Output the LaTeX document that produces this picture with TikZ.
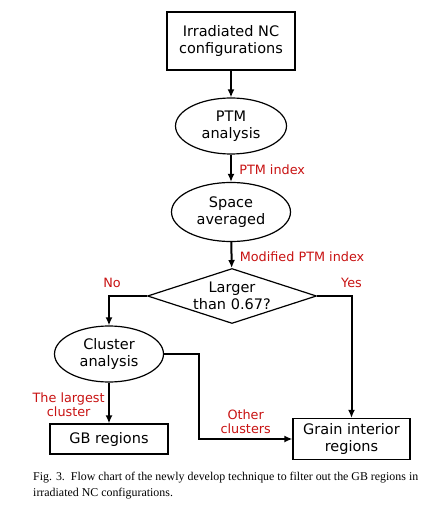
\documentclass[tikz,border=0pt]{standalone}
\usepackage{fontspec}
\setmainfont{DejaVu Sans}
\newfontfamily\capfont{Liberation Serif}
\usepackage{xcolor}
\usetikzlibrary{shapes.geometric,arrows.meta}
\definecolor{labelred}{RGB}{200,18,18}
\tikzset{
  procbox/.style={draw, line width=1.2pt, rectangle, inner sep=0pt, align=center, font=\fontsize{14.5}{17}\selectfont},
  procoval/.style={draw, line width=1.2pt, ellipse, inner sep=0pt, align=center, font=\fontsize{14.5}{17}\selectfont},
  arr/.style={line width=2pt, -{Latex[length=8pt,width=7pt]}},
  redlabel/.style={text=labelred, align=center, font=\fontsize{12.8}{14}\selectfont}
}
\begin{document}
\begin{tikzpicture}[x=1pt,y=-1pt]
\useasboundingbox (0,0) rectangle (430,521);

\node [procbox, minimum width=128pt, minimum height=58pt] (conf) at (231,41) {Irradiated NC\\configurations};

\node [procoval, minimum width=111pt, minimum height=56pt] (ptm) at (231,126) {PTM\\analysis};

\node [procoval, minimum width=119pt, minimum height=59pt] (avg) at (231,212) {Space\\averaged};

\node [draw, line width=1.2pt, diamond, aspect=3.07, inner sep=-4pt, minimum width=169pt, minimum height=55pt, align=center, font=\fontsize{14.5}{17}\selectfont] (cmp) at (232,296) {Larger\\than 0.67?};

\node [procoval, minimum width=109pt, minimum height=56pt] (clus) at (109,354) {Cluster\\analysis};

\node [procbox, minimum width=118pt, minimum height=30pt] (gb) at (109,439) {GB regions};

\node [procbox, minimum width=117pt, minimum height=41pt] (gi) at (351.5,439) {Grain interior\\regions};

\coordinate (turn) at (199,439);

\draw [arr] (conf) -- (ptm);

\draw [arr] (ptm) -- (avg) node [redlabel, right, pos=0.55, xshift=4pt] {PTM index};

\draw [arr] (avg) -- (cmp) node [redlabel, right, pos=0.55, xshift=4pt] {Modified PTM index};

\draw [arr] (cmp.west) -| (clus.north) node [redlabel, pos=0.5, above, xshift=3pt, yshift=4pt] {No};

\draw [arr] (cmp.east) -| (gi.north) node [redlabel, pos=0.5, above, yshift=4pt] {Yes};

\draw [arr] (clus) -- (gb) node [redlabel, left, midway, yshift=-2pt] {The largest\\cluster};

\draw [arr] (clus.east) -| (turn) -- (gi.west) node [redlabel, above, midway, yshift=1pt] {Other\\clusters};

\node [anchor=north west, align=left, inner sep=0pt, font=\capfont\fontsize{11.9}{15.5}\selectfont] (cap) at (33,472) {Fig. 3.\ \ Flow chart of the newly develop technique to filter out the GB regions in\\irradiated NC configurations.};

\end{tikzpicture}
\end{document}
